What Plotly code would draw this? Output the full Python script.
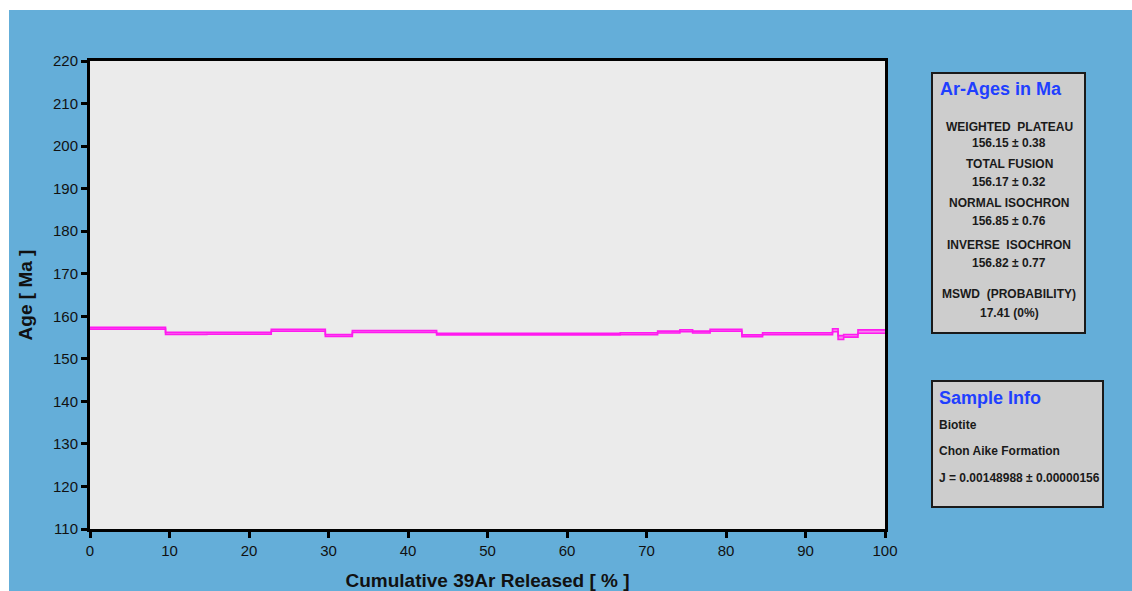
import plotly.graph_objects as go

# ---- data ----
cum_pct = [0, 9.5, 14.7, 22.8, 29.6, 33.0, 43.6, 66.7, 71.4, 74.2, 75.8,
           78.0, 82.0, 84.6, 93.4, 94.1, 94.8, 96.6, 100]
ages = [157.2, 156.0, 156.0, 156.7, 155.5, 156.4, 155.8, 155.9, 156.3,
        156.6, 156.3, 156.7, 155.4, 155.9, 156.7, 155.0, 155.4, 156.4]
errors = [0.22, 0.25, 0.22, 0.22, 0.22, 0.22, 0.18, 0.22, 0.22, 0.22, 0.22, 0.22,
          0.22, 0.22, 0.35, 0.45, 0.3, 0.4]
x_ticks = [0, 10, 20, 30, 40, 50, 60, 70, 80, 90, 100]
y_ticks = [110, 120, 130, 140, 150, 160, 170, 180, 190, 200, 210, 220]

ages_box_title = "Ar-Ages in Ma"
ages_box_lines = [
    ("WEIGHTED  PLATEAU", 126), ("156.15 ± 0.38", 142),
    ("TOTAL FUSION", 163), ("156.17 ± 0.32", 181),
    ("NORMAL ISOCHRON", 202), ("156.85 ± 0.76", 220),
    ("INVERSE  ISOCHRON", 244), ("156.82 ± 0.77", 262),
    ("MSWD  (PROBABILITY)", 293), ("17.41 (0%)", 312),
]
sample_title = "Sample Info"
sample_lines = [("Biotite", 424), ("Chon Aike Formation", 450),
                ("J = 0.00148988 ± 0.00000156", 477)]

# ---- layout helpers (screen pixel -> paper) ----
L, R, T, B = 90, 885, 60, 528
W = 1132
HL = 600           # layout height (screenshot compresses slightly)
TL, BL = 61, 536   # plot top / bottom in layout px
def px(x):
    return (x - L) / (R - L)
def py(y):
    return (B - y) / (B - T)

BLUE = "#64AED9"
MAG = "#FF1AF0"
FONT = "Liberation Sans, Arial, sans-serif"

upper = [a + e for a, e in zip(ages, errors)]
lower = [a - e for a, e in zip(ages, errors)]

fig = go.Figure()
fig.add_trace(go.Scatter(x=cum_pct, y=lower + [lower[-1]], mode="lines",
                         line=dict(shape="hv", color=MAG, width=1.6),
                         hoverinfo="skip", showlegend=False))
fig.add_trace(go.Scatter(x=cum_pct, y=upper + [upper[-1]], mode="lines",
                         line=dict(shape="hv", color=MAG, width=1.6),
                         fill="tonexty", fillcolor="rgba(255,60,240,0.6)",
                         hoverinfo="skip", showlegend=False))

axis_common = dict(showline=True, linecolor="black", linewidth=3, mirror=True,
                   ticks="outside", ticklen=6, tickwidth=3, tickcolor="black",
                   showgrid=False, zeroline=False,
                   tickfont=dict(family=FONT, size=15, color="#111"))

fig.update_xaxes(range=[0, 100], tickvals=x_ticks, **axis_common,
                 title=dict(text="<b>Cumulative 39Ar Released [ % ]</b>",
                            font=dict(family=FONT, size=19, color="#111"),
                            standoff=16))
fig.update_yaxes(range=[110, 220], tickvals=y_ticks, **axis_common,
                 title=dict(text="<b>Age [ Ma ]</b>",
                            font=dict(family=FONT, size=19, color="#111"),
                            standoff=16))

shapes = [
    # white outer margin (top and left)
    dict(type="rect", xref="paper", yref="paper", x0=px(-5), x1=px(1140),
         y0=py(9), y1=py(-5), fillcolor="white", line=dict(width=0), layer="below"),
    dict(type="rect", xref="paper", yref="paper", x0=px(-5), x1=px(9),
         y0=py(620), y1=py(-5), fillcolor="white", line=dict(width=0), layer="below"),
    # info boxes
    dict(type="rect", xref="paper", yref="paper", x0=px(932), x1=px(1085),
         y0=py(332), y1=py(72), fillcolor="#CDCDCD",
         line=dict(color="#1a1a1a", width=2)),
    dict(type="rect", xref="paper", yref="paper", x0=px(932), x1=px(1103),
         y0=py(506), y1=py(380), fillcolor="#CDCDCD",
         line=dict(color="#1a1a1a", width=2)),
]

ann = []
ann.append(dict(text="<b>" + ages_box_title + "</b>", x=px(938), y=py(88),
                xref="paper", yref="paper", xanchor="left", yanchor="middle",
                showarrow=False, font=dict(family=FONT, size=18, color="#1F3FFF")))
for txt, yy in ages_box_lines:
    ann.append(dict(text="<b>" + txt + "</b>", x=px(1009), y=py(yy),
                    xref="paper", yref="paper", xanchor="center", yanchor="middle",
                    showarrow=False, font=dict(family=FONT, size=12, color="#1a1a1a")))
ann.append(dict(text="<b>" + sample_title + "</b>", x=px(937), y=py(397),
                xref="paper", yref="paper", xanchor="left", yanchor="middle",
                showarrow=False, font=dict(family=FONT, size=18, color="#1F3FFF")))
for txt, yy in sample_lines:
    ann.append(dict(text="<b>" + txt + "</b>", x=px(937), y=py(yy),
                    xref="paper", yref="paper", xanchor="left", yanchor="middle",
                    showarrow=False, font=dict(family=FONT, size=12, color="#1a1a1a")))

fig.update_layout(
    width=W, height=HL,
    margin=dict(l=L, r=W - R, t=TL, b=HL - BL),
    paper_bgcolor=BLUE, plot_bgcolor="#EBEBEB",
    shapes=shapes, annotations=ann,
    font=dict(family=FONT),
)

fig.write_html("out.html",
               config={"displayModeBar": False},
               post_script="document.documentElement.style.margin='0';"
                           "document.documentElement.style.overflow='hidden';"
                           "document.body.style.margin='0';"
                           "document.body.style.overflow='hidden';"
                           "Array.from(document.body.children).forEach(function(c){"
                           "c.style.display='block';c.style.lineHeight='0';});")
